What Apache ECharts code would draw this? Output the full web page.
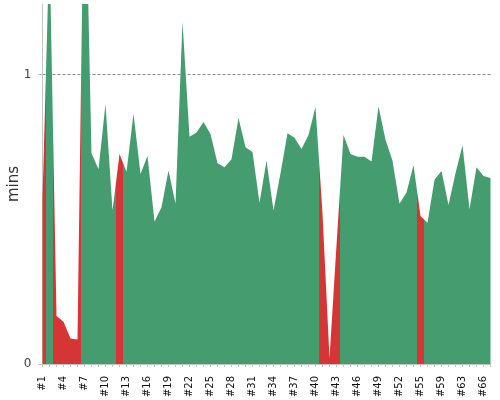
<!DOCTYPE html>
<html>
<head>
<meta charset="utf-8">
<script src="https://cdn.jsdelivr.net/npm/echarts@6/dist/echarts.min.js"></script>
<style>
  html, body { margin: 0; padding: 0; background: #fff; }
  #chart { width: 500px; height: 400px; }
</style>
</head>
<body>
<div id="chart"></div>
<script>
// run labels along the x axis
const categories = [
  '#1', '#2', '#3', '#4', '#5', '#6', '#7', '#8', '#9', '#10',
  '#11', '#12', '#13', '#14', '#15', '#16', '#17', '#18', '#19', '#20',
  '#21', '#22', '#23', '#24', '#25', '#26', '#27', '#28', '#29', '#30',
  '#31', '#32', '#33', '#34', '#35', '#36', '#37', '#38', '#39', '#40',
  '#41', '#42', '#43', '#44', '#45', '#46', '#47', '#48', '#49', '#50',
  '#51', '#52', '#53', '#54', '#55', '#56', '#58', '#59', '#60', '#62',
  '#63', '#64', '#65', '#66', '#67'
];

// duration of each run, in minutes
const minutes = [
  0.57, 1.45, 0.166, 0.146, 0.088, 0.085, 1.85, 0.728, 0.672, 0.898,
  0.530, 0.725, 0.664, 0.864, 0.656, 0.718, 0.492, 0.541, 0.668, 0.553,
  1.182, 0.785, 0.799, 0.836, 0.794, 0.693, 0.679, 0.707, 0.849, 0.748,
  0.732, 0.557, 0.702, 0.530, 0.659, 0.797, 0.781, 0.742, 0.791, 0.887,
  0.52, 0.02, 0.41, 0.791, 0.725, 0.716, 0.716, 0.699, 0.889, 0.774,
  0.702, 0.553, 0.592, 0.686, 0.511, 0.488, 0.636, 0.666, 0.549, 0.659,
  0.755, 0.534, 0.679, 0.649, 0.642
];

// runs drawn in red
const failed = [
  1, 0, 1, 1, 1, 1, 0, 0, 0, 0,
  0, 1, 0, 0, 0, 0, 0, 0, 0, 0,
  0, 0, 0, 0, 0, 0, 0, 0, 0, 0,
  0, 0, 0, 0, 0, 0, 0, 0, 0, 0,
  1, 1, 1, 0, 0, 0, 0, 0, 0, 0,
  0, 0, 0, 0, 1, 0, 0, 0, 0, 0,
  0, 0, 0, 0, 0
];

const yTicks = [0, 1];

const GREEN = '#459c6e';
const RED = '#d63535';

// one colour band per run of equal status, edges halfway between points
const pieces = [];
failed.forEach((f, i) => {
  const color = f ? RED : GREEN;
  const last = pieces[pieces.length - 1];
  if (last && last.color === color) {
    last.lt = i + 0.5;
  } else {
    pieces.push({ gte: i - 0.5, lt: i + 0.5, color: color });
  }
});

const chart = echarts.init(document.getElementById('chart'), null, { renderer: 'canvas' });

const option = {
  animation: false,
  backgroundColor: '#fff',
  textStyle: { fontFamily: 'DejaVu Sans' },
  grid: {
    left: 42.5,
    right: 9.5,
    top: 4,
    bottom: 36,
    containLabel: false,
    outerBoundsMode: 'none'
  },
  xAxis: {
    type: 'value',
    min: 0,
    max: categories.length - 1,
    interval: 1,
    offset: 5,
    axisLine: { lineStyle: { color: '#c4c4c4' } },
    axisTick: { length: 3, lineStyle: { color: '#c4c4c4' } },
    axisLabel: {
      rotate: 90,
      fontSize: 10,
      color: '#111',
      margin: 7,
      showMinLabel: true,
      showMaxLabel: true,
      formatter: function (v) {
        return v % 3 === 0 ? categories[v] : '';
      }
    },
    splitLine: { show: false }
  },
  yAxis: {
    type: 'value',
    min: yTicks[0],
    max: 1.243,
    interval: yTicks[1] - yTicks[0],
    offset: 3,
    name: 'mins',
    nameLocation: 'middle',
    nameRotate: 90,
    nameGap: 18,
    nameMoveOverlap: false,
    nameTextStyle: { fontSize: 15, color: '#333' },
    axisLine: { show: true, lineStyle: { color: '#c4c4c4' } },
    axisTick: { show: true, length: 4, lineStyle: { color: '#c4c4c4' } },
    axisLabel: {
      fontSize: 12,
      color: '#444',
      showMaxLabel: false,
      formatter: function (v) {
        return yTicks.indexOf(v) >= 0 ? String(v) : '';
      }
    },
    splitLine: {
      show: true,
      showMinLine: false,
      showMaxLine: false,
      lineStyle: { color: '#888', type: [3, 2], width: 1 }
    }
  },
  visualMap: {
    type: 'piecewise',
    show: false,
    dimension: 0,
    seriesIndex: 0,
    pieces: pieces
  },
  series: [
    {
      type: 'line',
      data: minutes.map((m, i) => [i, m]),
      showSymbol: false,
      lineStyle: { width: 0 },
      areaStyle: { opacity: 1 },
      clip: true
    }
  ]
};

chart.setOption(option);
</script>
</body>
</html>
